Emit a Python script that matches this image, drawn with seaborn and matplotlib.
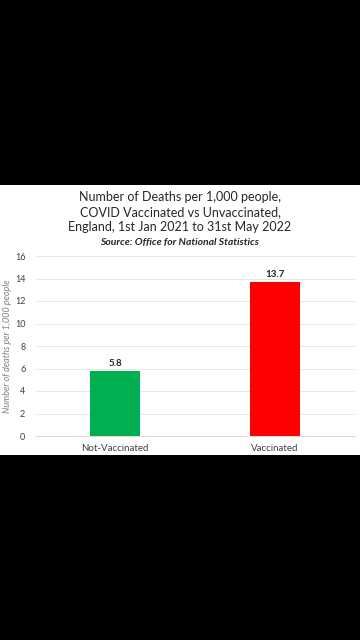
import matplotlib
matplotlib.use("Agg")
import matplotlib.pyplot as plt
import seaborn as sns
import pandas as pd
from matplotlib.patches import Rectangle

# data
categories = ["Not-Vaccinated", "Vaccinated"]
deaths_per_1000 = [5.8, 13.7]
bar_colors = ["#00B050", "#FF0000"]
y_ticks = [0, 2, 4, 6, 8, 10, 12, 14, 16]

df = pd.DataFrame({"group": categories, "deaths": deaths_per_1000})

sns.set_theme(style="white")
plt.rcParams["font.family"] = ["Lato", "DejaVu Sans"]

fig = plt.figure(figsize=(3.6, 6.4), dpi=100)
fig.patch.set_facecolor("black")

# white card behind the chart
fig.patches.append(Rectangle((0, 1 - 455 / 640), 1, 270 / 640,
                             transform=fig.transFigure, facecolor="white",
                             edgecolor="none", zorder=-5))

ax = fig.add_axes([35 / 360, 1 - 436 / 640, 320 / 360, 180 / 640])
ax.set_facecolor("white")
ax.set_zorder(2)

sns.barplot(data=df, x="group", y="deaths", hue="group",
            palette=bar_colors, width=0.31, legend=False, ax=ax,
            edgecolor="none", saturation=1)

for p, v in zip(ax.patches, deaths_per_1000):
    ax.text(p.get_x() + p.get_width() / 2, v + 0.25, f"{v:.1f}",
            ha="center", va="bottom", fontsize=7, fontweight="bold",
            color="#262626")

ax.set_ylim(0, 16)
ax.set_xlim(-0.5, 1.5)
ax.set_yticks(y_ticks)
ax.yaxis.grid(True, color="#E6E6E6", linewidth=0.7)
ax.set_axisbelow(True)
for s in ["top", "right", "left"]:
    ax.spines[s].set_visible(False)
ax.spines["bottom"].set_color("#D9D9D9")
ax.spines["bottom"].set_linewidth(0.7)
ax.tick_params(axis="x", length=0, labelsize=7, labelcolor="#404040", pad=6)
ax.tick_params(axis="y", length=0, labelsize=6.5, labelcolor="#404040", pad=7)
ax.set_xlabel("")
ax.set_ylabel("Number of deaths per 1,000 people", fontsize=6.5,
              style="italic", color="#7F7F7F")
ax.yaxis.set_label_coords(-0.072, 0.5)

fig.text(0.5, 1 - 212 / 640,
         "Number of Deaths per 1,000 people,\nCOVID Vaccinated vs Unvaccinated,\nEngland, 1st Jan 2021 to 31st May 2022",
         ha="center", va="center", fontsize=9, color="#262626",
         linespacing=1.3, zorder=3)
fig.text(0.5, 1 - 242 / 640, "Source: Office for National Statistics",
         ha="center", va="center", fontsize=7.5, style="italic",
         fontweight="bold", color="#262626", zorder=3)

fig.savefig("out.png", dpi=100, facecolor="black")
